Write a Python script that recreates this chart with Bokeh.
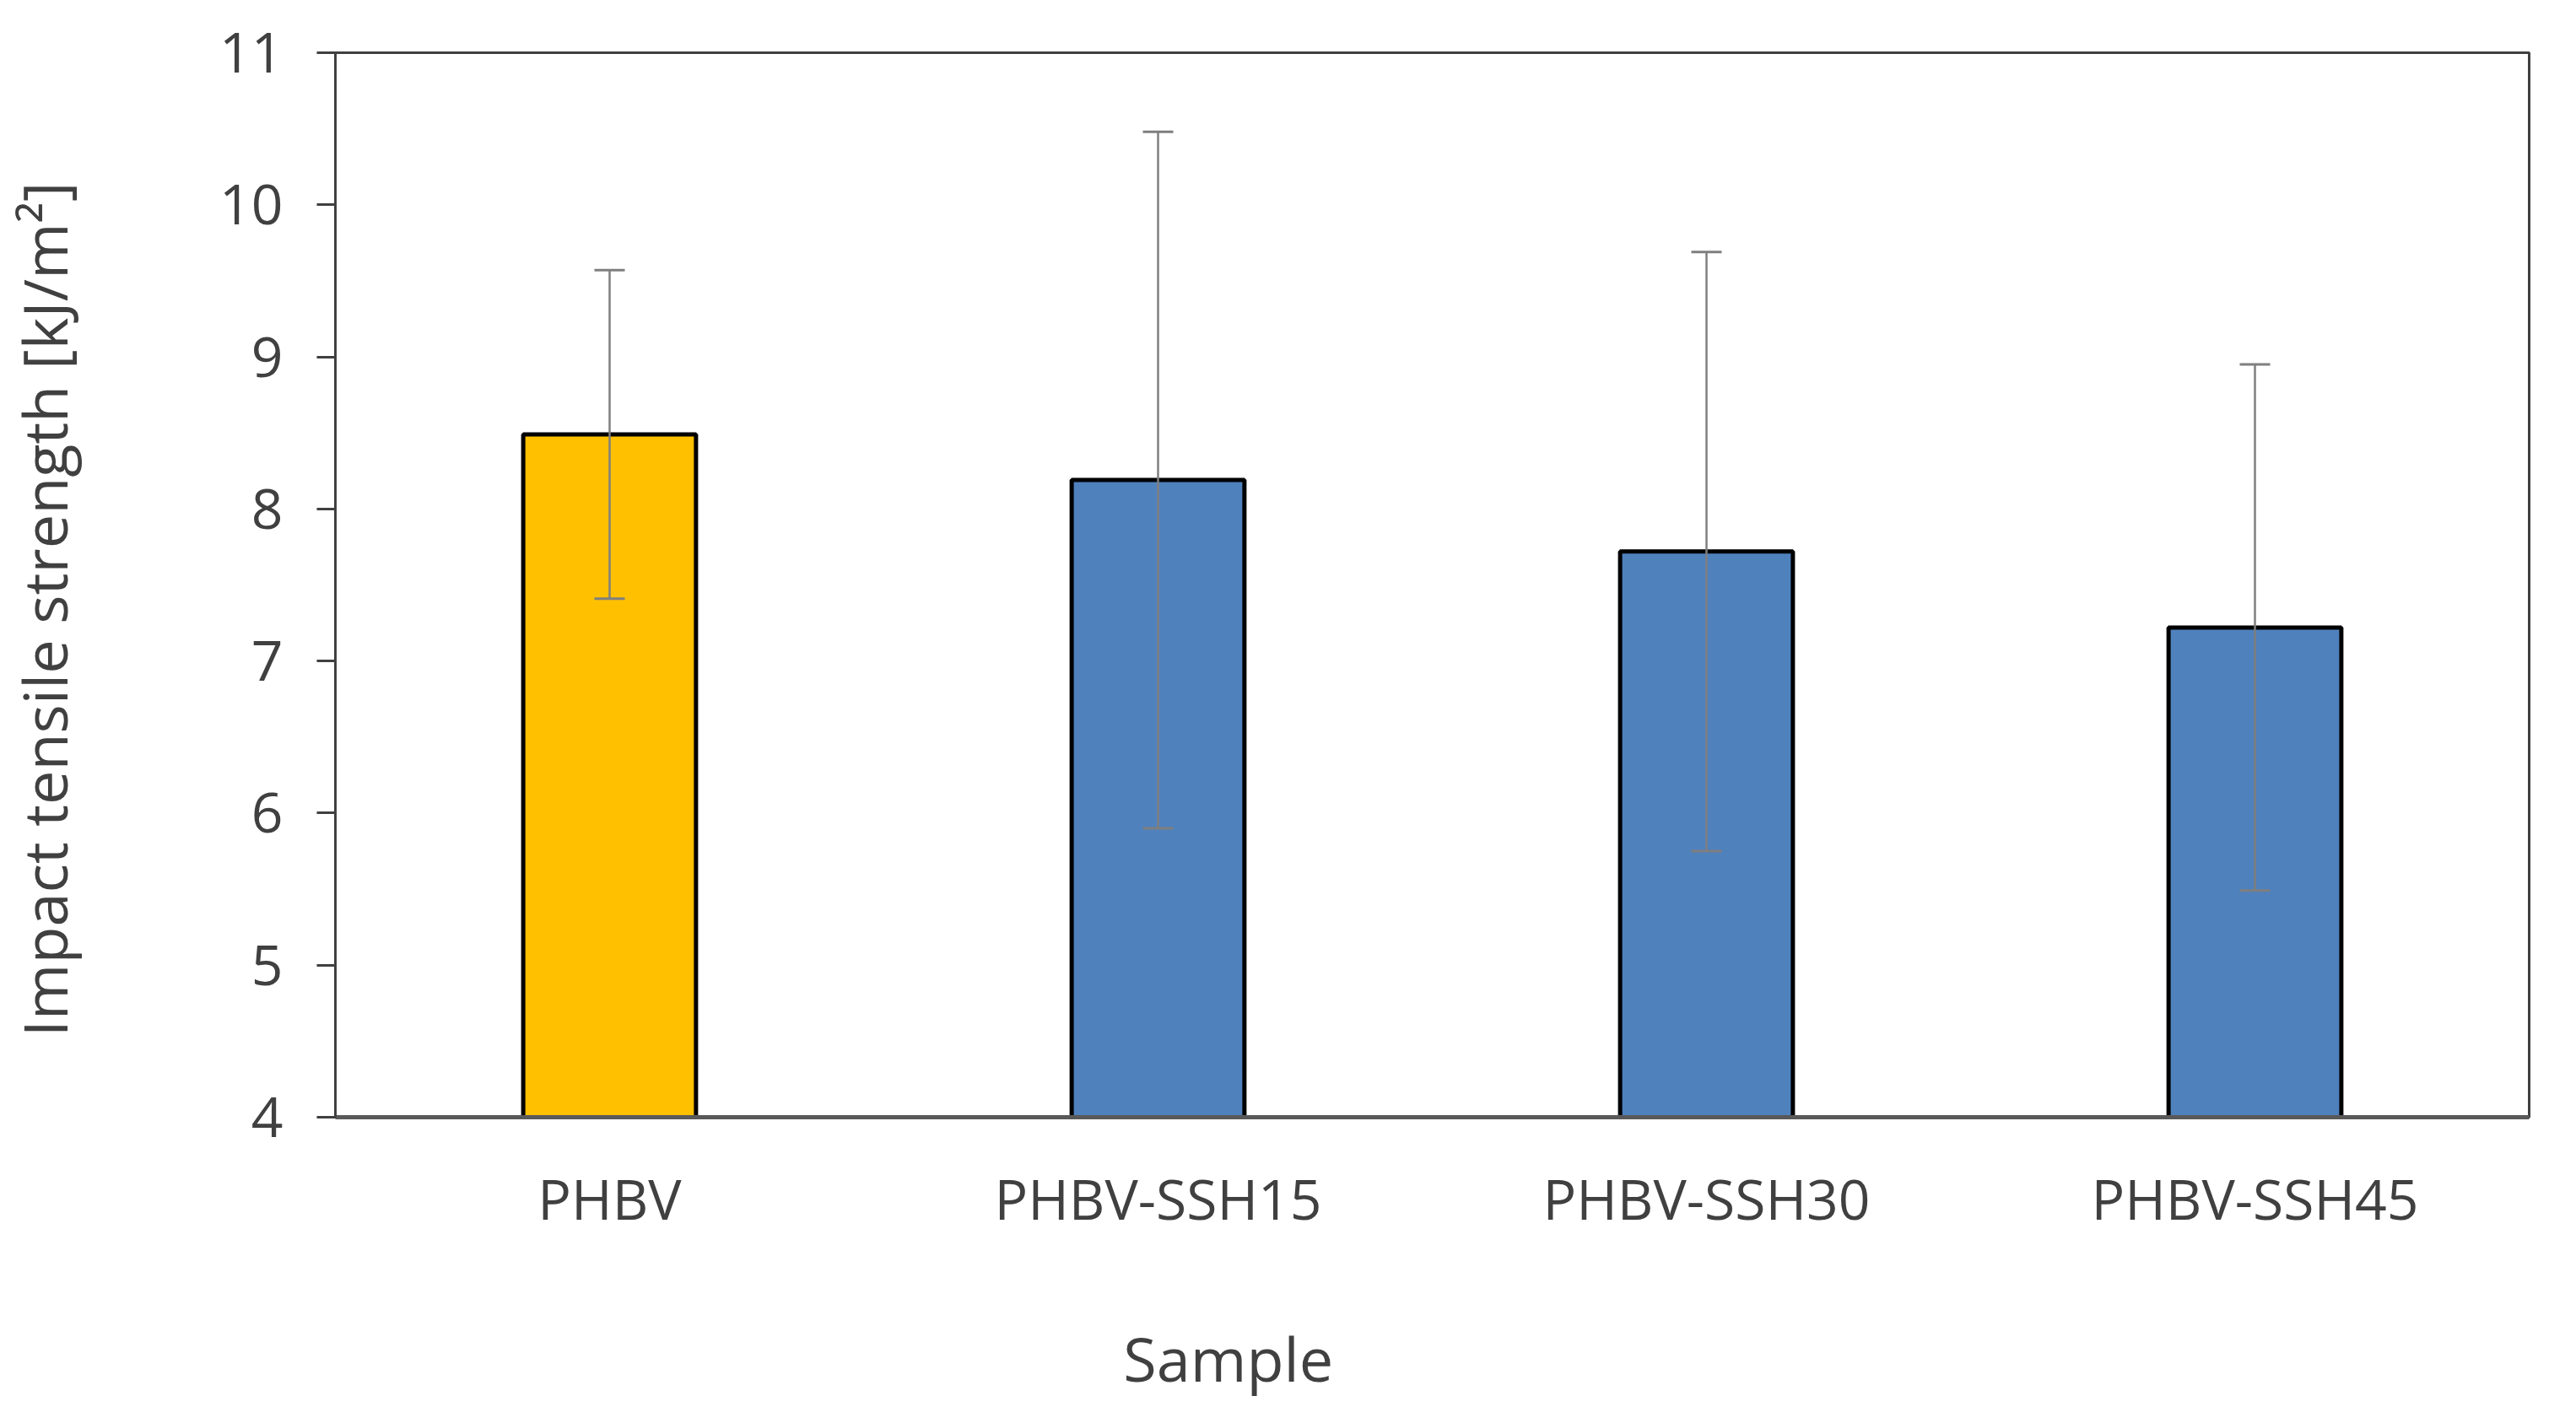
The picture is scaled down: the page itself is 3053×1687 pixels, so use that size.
from bokeh.plotting import figure
from bokeh.models import (ColumnDataSource, Whisker, TeeHead, FixedTicker,
                          LinearAxis, Range1d)
from bokeh.embed import file_html
from bokeh.resources import INLINE

samples = ["PHBV", "PHBV-SSH15", "PHBV-SSH30", "PHBV-SSH45"]
means = [8.49, 8.19, 7.72, 7.22]
errors = [1.08, 2.29, 1.97, 1.73]
colors = ["#FFC000", "#4F81BD", "#4F81BD", "#4F81BD"]
y_ticks = [4, 5, 6, 7, 8, 9, 10, 11]
x_title = "Sample"
y_title = "Impact tensile strength [kJ/m²]"

idx = list(range(len(samples)))
src = ColumnDataSource(dict(
    pos=idx,
    sample=samples,
    mean=means,
    upper=[m + e for m, e in zip(means, errors)],
    lower=[m - e for m, e in zip(means, errors)],
    color=colors,
))

FONT = "Open Sans"
TXT = "#404040"

p = figure(x_range=Range1d(-0.5, len(samples) - 0.5), y_range=(4, 11),
           width=3037, height=1671, output_backend="svg", toolbar_location=None,
           min_border_left=395, min_border_right=40, min_border_top=62, min_border_bottom=347)

p.vbar(x="pos", top="mean", bottom=4, width=0.315, fill_color="color",
       line_color="black", line_width=5, source=src)

w = Whisker(base="pos", upper="upper", lower="lower", source=src, level="overlay",
            line_color="#7F7F7F", line_width=2.5,
            upper_head=TeeHead(size=36, line_color="#7F7F7F", line_width=3),
            lower_head=TeeHead(size=36, line_color="#7F7F7F", line_width=3))
p.add_layout(w)

p.xgrid.grid_line_color = None
p.ygrid.grid_line_color = None
p.outline_line_color = "#404040"
p.outline_line_width = 3
p.background_fill_color = "white"
p.border_fill_color = "white"

p.yaxis.ticker = FixedTicker(ticks=y_ticks)
p.yaxis.axis_line_color = "#404040"
p.yaxis.axis_line_width = 3
p.yaxis.major_tick_line_color = "#404040"
p.yaxis.major_tick_line_width = 3
p.yaxis.major_tick_out = 22
p.yaxis.major_tick_in = 0
p.yaxis.minor_tick_line_color = None
p.yaxis.major_label_standoff = 40

p.xaxis.ticker = FixedTicker(ticks=idx)
p.xaxis.major_label_overrides = {i: s for i, s in zip(idx, samples)}
p.xaxis.axis_line_color = "#595959"
p.xaxis.axis_line_width = 5
p.xaxis.major_tick_line_color = None
p.xaxis.minor_tick_line_color = None
p.xaxis.major_tick_out = 0
p.xaxis.major_tick_in = 0
p.xaxis.major_label_standoff = 50

for ax in (p.xaxis, p.yaxis):
    ax.major_label_text_font = FONT
    ax.major_label_text_font_size = "66px"
    ax.major_label_text_color = TXT

# Axis titles: placed off-centre like the original, via title-only axes
p.extra_x_ranges = {"xtitle": Range1d(0, 1)}
p.extra_y_ranges = {"ytitle": Range1d(0, 1)}
x_title_pos = 0.407
y_title_pos = 0.477

xt = LinearAxis(x_range_name="xtitle", ticker=FixedTicker(ticks=[x_title_pos]),
                major_label_overrides={x_title_pos: x_title})
yt = LinearAxis(y_range_name="ytitle", ticker=FixedTicker(ticks=[y_title_pos]),
                major_label_overrides={y_title_pos: y_title},
                major_label_orientation="vertical")
for ax, so in ((xt, 93), (yt, 156)):
    ax.axis_line_color = None
    ax.major_tick_line_color = None
    ax.minor_tick_line_color = None
    ax.major_tick_out = 0
    ax.major_tick_in = 0
    ax.major_label_standoff = so
    ax.major_label_text_font = FONT
    ax.major_label_text_font_size = "72px"
    ax.major_label_text_color = TXT
p.add_layout(xt, "below")
p.add_layout(yt, "left")

open("out.html", "w").write(file_html(p, INLINE))
